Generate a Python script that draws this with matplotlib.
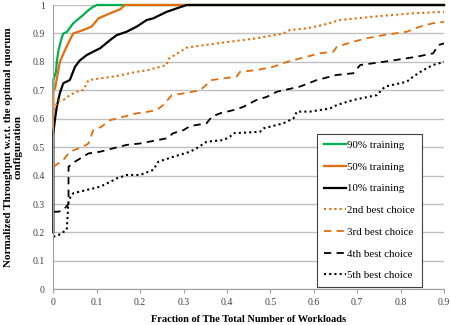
import numpy as np
import matplotlib
matplotlib.use("Agg")
from matplotlib import pyplot as plt

# values
x90 = [0, 0, 0.006, 0.008, 0.012, 0.019, 0.023, 0.031, 0.046, 0.061, 0.069, 0.081, 0.092, 0.1, 0.9]
y90 = [0.70, 0.736, 0.765, 0.80, 0.842, 0.883, 0.90, 0.905, 0.936, 0.955, 0.965, 0.982, 0.994, 1.0, 1.0]

x50 = [0, 0, 0.004, 0.015, 0.027, 0.038, 0.046, 0.069, 0.088, 0.104, 0.131, 0.154, 0.165, 0.9]
y50 = [0.55, 0.70, 0.707, 0.80, 0.842, 0.877, 0.90, 0.912, 0.924, 0.953, 0.971, 0.985, 1.0, 1.0]

x10 = [0, 0, 0.004, 0.008, 0.015, 0.023, 0.038, 0.05, 0.061, 0.077, 0.092, 0.108, 0.131, 0.146,
       0.169, 0.192, 0.215, 0.23, 0.261, 0.284, 0.307, 0.9]
y10 = [0.20, 0.55, 0.60, 0.642, 0.69, 0.725, 0.736, 0.783, 0.805, 0.824, 0.836, 0.848, 0.877, 0.894,
       0.906, 0.924, 0.947, 0.953, 0.976, 0.988, 1.0, 1.0]

x2nd = [0, 0.008, 0.015, 0.023, 0.038, 0.054, 0.069, 0.081, 0.146, 0.192, 0.215, 0.261, 0.265, 0.307,
        0.353, 0.407, 0.468, 0.53, 0.545, 0.584, 0.622, 0.66, 0.737, 0.829, 0.9]
y2nd = [0.63, 0.654, 0.666, 0.666, 0.683, 0.695, 0.701, 0.736, 0.75, 0.765, 0.77, 0.789, 0.81, 0.85,
        0.86, 0.871, 0.883, 0.90, 0.912, 0.918, 0.93, 0.947, 0.959, 0.971, 0.976]

x3rd = [0, 0.023, 0.038, 0.069, 0.081, 0.092, 0.111, 0.131, 0.146, 0.192, 0.219, 0.238, 0.253, 0.273,
        0.3, 0.338, 0.365, 0.392, 0.422, 0.43, 0.468, 0.507, 0.538, 0.568, 0.614, 0.645, 0.653,
        0.691, 0.722, 0.76, 0.814, 0.845, 0.875, 0.9]
y3rd = [0.431, 0.455, 0.484, 0.502, 0.513, 0.56, 0.572, 0.595, 0.601, 0.619, 0.625, 0.63, 0.648, 0.683,
        0.689, 0.70, 0.736, 0.742, 0.748, 0.765, 0.771, 0.783, 0.80, 0.812, 0.83, 0.836, 0.853,
        0.871, 0.883, 0.894, 0.906, 0.924, 0.936, 0.941]

x4th = [0, 0.012, 0.023, 0.035, 0.035, 0.05, 0.081, 0.108, 0.138, 0.169, 0.2, 0.261, 0.276, 0.3,
        0.315, 0.353, 0.365, 0.384, 0.422, 0.438, 0.468, 0.492, 0.515, 0.568, 0.607, 0.653, 0.691,
        0.707, 0.76, 0.799, 0.837, 0.875, 0.887, 0.9]
y4th = [0.273, 0.273, 0.279, 0.30, 0.431, 0.449, 0.478, 0.484, 0.496, 0.508, 0.513, 0.531, 0.549, 0.56,
        0.574, 0.584, 0.607, 0.619, 0.633, 0.642, 0.666, 0.677, 0.695, 0.713, 0.736, 0.754, 0.76,
        0.789, 0.80, 0.809, 0.818, 0.83, 0.859, 0.865]

x5th = [0, 0.012, 0.031, 0.035, 0.046, 0.108, 0.131, 0.146, 0.169, 0.2, 0.23, 0.242, 0.276, 0.315,
        0.33, 0.353, 0.392, 0.407, 0.415, 0.476, 0.484, 0.53, 0.553, 0.561, 0.591, 0.637, 0.653,
        0.691, 0.745, 0.764, 0.814, 0.829, 0.852, 0.875, 0.9]
y5th = [0.185, 0.191, 0.209, 0.314, 0.338, 0.361, 0.378, 0.39, 0.402, 0.402, 0.42, 0.449, 0.466, 0.484,
        0.496, 0.519, 0.525, 0.537, 0.549, 0.554, 0.566, 0.584, 0.601, 0.625, 0.625, 0.636, 0.648,
        0.666, 0.683, 0.713, 0.73, 0.748, 0.771, 0.789, 0.80]

green = '#00b050'
orange = '#e46c0a'

plt.rcParams['font.family'] = ['Liberation Serif', 'DejaVu Serif']

fig = plt.figure(figsize=(4.5, 3.25), dpi=100)
ax = fig.add_axes([0.1185, 0.1098, 0.8682, 0.8748])

ax.plot(x90, y90, color=green, lw=1.6, label='90% training', clip_on=False)
ax.plot(x50, y50, color=orange, lw=1.6, label='50% training', clip_on=False)
ax.plot(x10, y10, color='black', lw=1.6, label='10% training', clip_on=False)
ax.plot(x2nd, y2nd, color=orange, lw=1.5, ls=(0, (1, 1.5)), label='2nd best choice')
ax.plot(x3rd, y3rd, color=orange, lw=1.3, ls=(0, (4, 3)), label='3rd best choice')
ax.plot(x4th, y4th, color='black', lw=1.3, ls=(0, (4, 3)), label='4th best choice')
ax.plot(x5th, y5th, color='black', lw=1.5, ls=(0, (1, 1.5)), label='5th best choice')

ax.set_xlim(0, 0.9)
ax.set_ylim(0, 1)
ax.set_xticks(np.arange(0, 0.91, 0.1))
ax.set_yticks(np.arange(0, 1.01, 0.1))
ax.set_xticklabels(['0'] + ['%.1f' % v for v in np.arange(0.1, 0.91, 0.1)])
ax.set_yticklabels(['0'] + ['%.1f' % v for v in np.arange(0.1, 0.95, 0.1)] + ['1'])
ax.tick_params(axis='both', labelsize=7, colors='#404040')
ax.tick_params(axis='y', length=0, pad=6)
ax.tick_params(axis='x', length=3, color='#a0a0a0', pad=3)
ax.yaxis.grid(True, color='#bfbfbf', lw=1)
ax.set_axisbelow(True)
for s in ['top', 'right']:
    ax.spines[s].set_visible(False)
ax.spines['left'].set_color('#a0a0a0')
ax.spines['bottom'].set_color('#a0a0a0')

ax.set_xlabel('Fraction of The Total Number of Workloads', fontsize=7.5, fontweight='bold', labelpad=6)
ax.set_ylabel('Normalized Throughput w.r.t. the optimal quorum\nconfiguration', fontsize=8,
              fontweight='bold', labelpad=7, linespacing=1.1)

leg = ax.legend(loc='lower right', bbox_to_anchor=(0.943, 0.009), fontsize=7.8, frameon=True,
                fancybox=False, edgecolor='#404040', framealpha=1, borderpad=0.6,
                labelspacing=1.12, handlelength=2.1, handletextpad=0.1, borderaxespad=0)
leg.get_frame().set_linewidth(0.8)

fig.savefig('out.png', dpi=100)
